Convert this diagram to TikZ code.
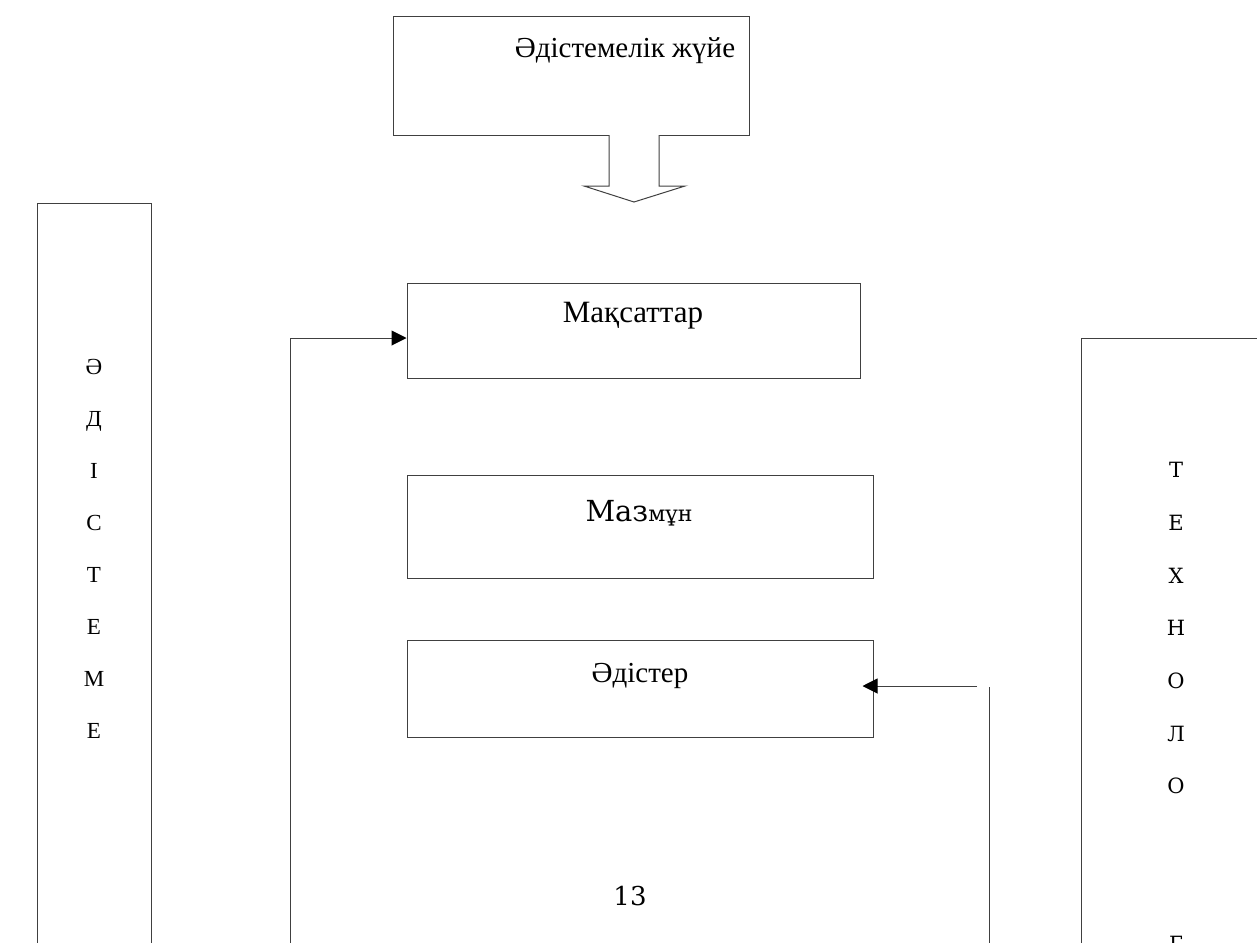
\documentclass[tikz,border=0pt]{standalone}
\usepackage{fontspec}
\setmainfont{Liberation Serif}
\newfontfamily\djv{DejaVu Serif}
\usetikzlibrary{arrows.meta}
\begin{document}
\begin{tikzpicture}[x=1pt,y=-1pt,
  box/.style={draw=black!75,line width=1pt,rectangle,inner sep=0pt},
  conn/.style={draw=black!75,line width=1pt},
  arr/.style={conn,-{Triangle[length=15pt,width=15pt,color=black]}},
  lbl/.style={inner sep=0pt,anchor=base,text=black},
  letter/.style={lbl,font=\fontsize{23}{24}\selectfont},
  rletter/.style={lbl,font=\djv\fontsize{21}{24}\selectfont}]
\useasboundingbox (0,0) rectangle (1257,942);
\clip (0,0) rectangle (1257,942);
% top box
\node[box,minimum width=356pt,minimum height=118pt] (top) at (571,76) {};
\node[lbl,font=\fontsize{29}{30}\selectfont] (toptext) at (625,57) {Әдістемелік жүйе};
% block arrow
\draw[conn,fill=white] (609,135) -- (609,186) -- (584,186) -- (634,202) -- (685,186) -- (659,186) -- (659,135);
% middle boxes
\node[box,minimum width=453pt,minimum height=95pt] (maks) at (633.5,330.5) {};
\node[lbl,font=\fontsize{31}{33}\selectfont] (makstext) at (633,322) {Мақсаттар};
\node[box,minimum width=466pt,minimum height=103pt] (mazm) at (640,526.5) {};
\node[lbl] (mazmtext) at (639,521) {{\djv\fontsize{29}{30}\selectfont Маз}{\djv\fontsize{22}{30}\selectfont мұн}};
\node[box,minimum width=466pt,minimum height=97pt] (adis) at (640,688.5) {};
\node[lbl,font=\fontsize{29}{30}\selectfont] (adistext) at (640,682) {Әдістер};
% tall side boxes
\node[box,minimum width=114pt,minimum height=800pt] (left) at (94,603) {};
\node[box,minimum width=240pt,minimum height=700pt] (right) at (1201,688) {};
% left letters
\node[letter] (l1) at (94,374) {Ә};
\node[letter] (l2) at (94,426) {Д};
\node[letter] (l3) at (94,478) {І};
\node[letter] (l4) at (94,530) {С};
\node[letter] (l5) at (94,582) {Т};
\node[letter] (l6) at (94,634) {Е};
\node[letter] (l7) at (94,686) {М};
\node[letter] (l8) at (94,738) {Е};
% right letters
\node[rletter] (r1) at (1176,477) {Т};
\node[rletter] (r2) at (1176,530) {Е};
\node[rletter] (r3) at (1176,583) {Х};
\node[rletter] (r4) at (1176,635) {Н};
\node[rletter] (r5) at (1176,688) {О};
\node[rletter] (r6) at (1176,741) {Л};
\node[rletter] (r7) at (1176,793) {О};
\node[rletter] (r8) at (1176,951) {Г};
% page number
\node[lbl,font=\djv\fontsize{26}{28}\selectfont] (pnum) at (630,905) {13};
% connectors
\coordinate (la) at (290,960);
\coordinate (lb) at (290,338);
\draw[arr] (la) -- (lb) -- (maks.west |- lb);
\coordinate (ra) at (977,686);
\draw[arr,shorten >=-11pt] (ra) -- (adis.east |- ra);
\coordinate (rb) at (989,960);
\coordinate (rc) at (989,687);
\draw[conn] (rb) -- (rc);
\end{tikzpicture}
\end{document}
